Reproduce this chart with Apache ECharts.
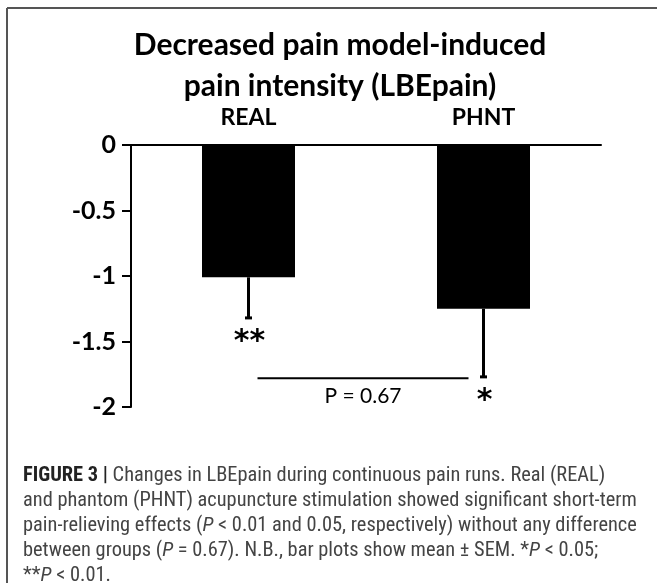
<!DOCTYPE html>
<html>
<head>
<meta charset="utf-8">
<script src="https://cdn.jsdelivr.net/npm/echarts@6/dist/echarts.min.js"></script>
<style>
html,body{margin:0;padding:0;background:#fff;}
#chart{width:657px;height:583px;}
</style>
</head>
<body>
<div id="chart"></div>
<script>
// ---- data ----
const categories = ['REAL', 'PHNT'];
const means = [-1.01, -1.25];
const sems = [0.31, 0.52];
const stars = ['**', '*'];
const yMin = -2, yMax = 0, yInterval = 0.5;
const titleLines = ['Decreased pain model-induced', 'pain intensity (LBEpain)'];
const pText = 'P = 0.67';
const bracketLevel = [-1.78];
const captionLines = [
  '{b|FIGURE 3 |} Changes in LBEpain during continuous pain runs. Real (REAL)',
  'and phantom (PHNT) acupuncture stimulation showed significant short-term',
  'pain-relieving effects ({i|P} < 0.01 and 0.05, respectively) without any difference',
  'between groups ({i|P} = 0.67). N.B., bar plots show mean ± SEM. *{i|P} < 0.05;',
  '**{i|P} < 0.01.'
];

const chartFont = 'Lato, "Open Sans", sans-serif';
const capFont = '"Liberation Sans Narrow", "Roboto Condensed", "Liberation Sans", Arial, sans-serif';
const capSize = 20.4;

const chart = echarts.init(document.getElementById('chart'));

const errData = categories.map((c, i) => [i, means[i], means[i] - sems[i]]);

const graphics = [
  { type: 'line', shape: { x1: 7, y1: 8, x2: 657, y2: 8 }, style: { stroke: '#555', lineWidth: 2 } },
  { type: 'line', shape: { x1: 7, y1: 8, x2: 7, y2: 583 }, style: { stroke: '#555', lineWidth: 2 } }
];
titleLines.forEach((t, i) => {
  graphics.push({
    type: 'text', x: 340, y: 45 + i * 41,
    style: { text: t, fill: '#000', font: 'bold 30px ' + chartFont, textAlign: 'center', textVerticalAlign: 'middle' }
  });
});
captionLines.forEach((t, i) => {
  graphics.push({
    type: 'text', x: 23, y: 476 + i * 25,
    style: {
      text: t, fill: '#444', font: capSize + 'px ' + capFont, textVerticalAlign: 'middle',
      rich: {
        b: { fontWeight: 'bold', fontSize: capSize, fontFamily: capFont, fill: '#222' },
        i: { fontStyle: 'italic', fontSize: capSize, fontFamily: capFont, fill: '#444' }
      }
    }
  });
});

chart.setOption({
  animation: false,
  grid: { left: 131, right: 56, top: 145, bottom: 176 },
  xAxis: {
    type: 'category', data: categories, position: 'top',
    axisLine: { onZero: false, lineStyle: { color: '#000', width: 2 } },
    axisTick: { show: false },
    axisLabel: { color: '#000', fontFamily: chartFont, fontWeight: 'bold', fontSize: 23, margin: 16 }
  },
  yAxis: {
    type: 'value', min: yMin, max: yMax, interval: yInterval,
    axisLine: { show: true, lineStyle: { color: '#000', width: 2 } },
    axisTick: { show: true, length: 9, lineStyle: { color: '#000', width: 2 } },
    splitLine: { show: false },
    axisLabel: { color: '#000', fontFamily: chartFont, fontWeight: 'bold', fontSize: 25, margin: 15 }
  },
  series: [
    {
      type: 'bar', data: means, barWidth: 93,
      itemStyle: { color: '#000' }
    },
    {
      type: 'custom', data: errData, z: 5,
      renderItem: function (params, api) {
        const x = api.value(0);
        const p1 = api.coord([x, api.value(1)]);
        const p2 = api.coord([x, api.value(2)]);
        return {
          type: 'group',
          children: [
            { type: 'line', shape: { x1: p1[0], y1: p1[1], x2: p2[0], y2: p2[1] }, style: { stroke: '#000', lineWidth: 3 } },
            { type: 'line', shape: { x1: p2[0] - 3.5, y1: p2[1], x2: p2[0] + 3.5, y2: p2[1] }, style: { stroke: '#000', lineWidth: 3 } },
            { type: 'text', x: p2[0] + 1, y: p2[1] + 24, style: { text: stars[params.dataIndex], fill: '#000', font: 'bold 30px "DejaVu Sans", ' + chartFont, textAlign: 'center', textVerticalAlign: 'middle' } }
          ]
        };
      }
    },
    {
      type: 'custom', data: [[0, 1, bracketLevel[0]]], z: 5,
      renderItem: function (params, api) {
        const a = api.coord([api.value(0), api.value(2)]);
        const b = api.coord([api.value(1), api.value(2)]);
        const x1 = a[0] + 9, x2 = b[0] - 15;
        return {
          type: 'group',
          children: [
            { type: 'line', shape: { x1: x1, y1: a[1], x2: x2, y2: a[1] }, style: { stroke: '#000', lineWidth: 2 } },
            { type: 'text', x: (x1 + x2) / 2, y: a[1] + 18, style: { text: pText, fill: '#000', font: '21px ' + chartFont, textAlign: 'center', textVerticalAlign: 'middle' } }
          ]
        };
      }
    }
  ],
  graphic: graphics
});
</script>
</body>
</html>
